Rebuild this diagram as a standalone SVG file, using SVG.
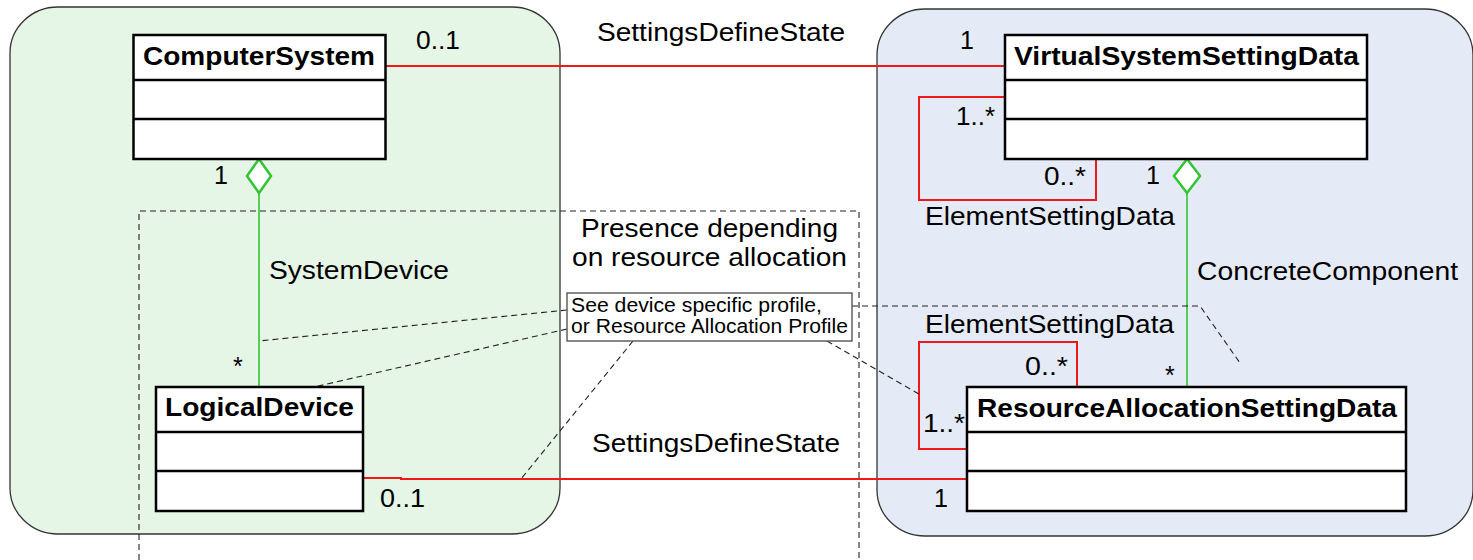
<svg xmlns="http://www.w3.org/2000/svg" width="1473" height="560" viewBox="0 0 1473 560">
  <style>
    text { font-family: "Liberation Sans", Arial, sans-serif; font-size: 25px; fill: #000; }
    .cls { font-weight: bold; }
    .note { font-size: 20px; }
    .box { fill: #fff; stroke: #000; stroke-width: 2.5; }
    .div { stroke: #000; stroke-width: 2.5; }
    .assoc { fill: none; stroke: #f01818; stroke-width: 2; }
    .agg { fill: none; stroke: #33c433; stroke-width: 1.6; }
    .diamond { fill: #fff; stroke: #33c433; stroke-width: 2.5; }
    .dash { fill: none; stroke: #222; stroke-width: 1.1; stroke-dasharray: 6 4; }
  </style>

  <!-- system and settings areas -->
  <g id="areas">
    <rect x="10" y="7" width="550" height="527" rx="48" ry="46" fill="#e5f5e6" stroke="#333" stroke-width="1.3"/>
    <rect x="877" y="9" width="596" height="527" rx="48" ry="46" fill="#e5ebf6" stroke="#333" stroke-width="1.3"/>
  </g>

  <!-- region whose presence depends on resource allocation -->
  <g id="presence-region">
    <path class="dash" d="M139,560 V211 H859 V560"/>
    <text x="581" y="237" textLength="257" lengthAdjust="spacingAndGlyphs">Presence depending</text>
    <text x="572" y="266" textLength="275" lengthAdjust="spacingAndGlyphs">on resource allocation</text>
  </g>

  <g id="connectors">
    <!-- SettingsDefineState: ComputerSystem - VirtualSystemSettingData -->
    <line class="assoc" x1="386" y1="66" x2="1005" y2="66"/>
    <!-- ElementSettingData self loop on VirtualSystemSettingData -->
    <polyline class="assoc" points="1005,97 919,97 919,200 1096,200 1096,159"/>
    <!-- SettingsDefineState: LogicalDevice - ResourceAllocationSettingData -->
    <polyline class="assoc" points="363,478 401,478 401,479 967,479"/>
    <!-- ElementSettingData self loop on ResourceAllocationSettingData -->
    <polyline class="assoc" points="1077,387 1077,342 919,342 919,449 967,449"/>
    <!-- SystemDevice aggregation -->
    <line class="agg" x1="259" y1="193" x2="259" y2="387"/>
    <polygon class="diamond" points="259,159 271,176 259,193 247,176"/>
    <!-- ConcreteComponent aggregation -->
    <line class="agg" x1="1187" y1="193" x2="1187" y2="387"/>
    <polygon class="diamond" points="1187,159 1200,176 1187,193 1174,176"/>
    <!-- note anchors -->
    <line class="dash" x1="567" y1="310" x2="259" y2="341"/>
    <line class="dash" x1="567" y1="329" x2="314" y2="387"/>
    <line class="dash" x1="633" y1="341" x2="521" y2="479"/>
    <line class="dash" x1="827" y1="341" x2="919" y2="394"/>
    <polyline class="dash" points="852,306 1200,306 1240,363"/>
  </g>

  <g id="ComputerSystem">
    <rect class="box" x="133.5" y="35" width="252" height="124"/>
    <line class="div" x1="133.5" y1="80" x2="385.5" y2="80"/>
    <line class="div" x1="133.5" y1="119" x2="385.5" y2="119"/>
    <text class="cls" x="143" y="65" textLength="232" lengthAdjust="spacingAndGlyphs">ComputerSystem</text>
  </g>

  <g id="VirtualSystemSettingData">
    <rect class="box" x="1005" y="35" width="362" height="124"/>
    <line class="div" x1="1005" y1="80" x2="1367" y2="80"/>
    <line class="div" x1="1005" y1="119" x2="1367" y2="119"/>
    <text class="cls" x="1014" y="65" textLength="345" lengthAdjust="spacingAndGlyphs">VirtualSystemSettingData</text>
  </g>

  <g id="LogicalDevice">
    <rect class="box" x="156" y="387" width="207" height="124"/>
    <line class="div" x1="156" y1="432" x2="363" y2="432"/>
    <line class="div" x1="156" y1="471" x2="363" y2="471"/>
    <text class="cls" x="165" y="416" textLength="189" lengthAdjust="spacingAndGlyphs">LogicalDevice</text>
  </g>

  <g id="ResourceAllocationSettingData">
    <rect class="box" x="967" y="387" width="439" height="124"/>
    <line class="div" x1="967" y1="432" x2="1406" y2="432"/>
    <line class="div" x1="967" y1="471" x2="1406" y2="471"/>
    <text class="cls" x="977" y="417" textLength="420" lengthAdjust="spacingAndGlyphs">ResourceAllocationSettingData</text>
  </g>

  <g id="note">
    <rect x="567" y="293" width="285" height="48" fill="#fff" stroke="#555" stroke-width="1.4"/>
    <text class="note" x="571" y="312" textLength="251" lengthAdjust="spacingAndGlyphs">See device specific profile,</text>
    <text class="note" x="571" y="333" textLength="277" lengthAdjust="spacingAndGlyphs">or Resource Allocation Profile</text>
  </g>

  <g id="labels">
    <text x="597" y="41" textLength="248" lengthAdjust="spacingAndGlyphs">SettingsDefineState</text>
    <text x="416" y="49" textLength="44" lengthAdjust="spacingAndGlyphs">0..1</text>
    <text x="960" y="49">1</text>
    <text x="214" y="184">1</text>
    <text x="956" y="125" textLength="39" lengthAdjust="spacingAndGlyphs">1..*</text>
    <text x="1044" y="185" textLength="42" lengthAdjust="spacingAndGlyphs">0..*</text>
    <text x="1146" y="184">1</text>
    <text x="925" y="225" textLength="250" lengthAdjust="spacingAndGlyphs">ElementSettingData</text>
    <text x="269" y="279" textLength="180" lengthAdjust="spacingAndGlyphs">SystemDevice</text>
    <text x="1197" y="280" textLength="261" lengthAdjust="spacingAndGlyphs">ConcreteComponent</text>
    <text x="233" y="375">*</text>
    <text x="925" y="333" textLength="249" lengthAdjust="spacingAndGlyphs">ElementSettingData</text>
    <text x="1025" y="375" textLength="43" lengthAdjust="spacingAndGlyphs">0..*</text>
    <text x="1165" y="384">*</text>
    <text x="923" y="432" textLength="42" lengthAdjust="spacingAndGlyphs">1..*</text>
    <text x="592" y="452" textLength="248" lengthAdjust="spacingAndGlyphs">SettingsDefineState</text>
    <text x="380" y="507" textLength="45" lengthAdjust="spacingAndGlyphs">0..1</text>
    <text x="934" y="507">1</text>
  </g>
</svg>
